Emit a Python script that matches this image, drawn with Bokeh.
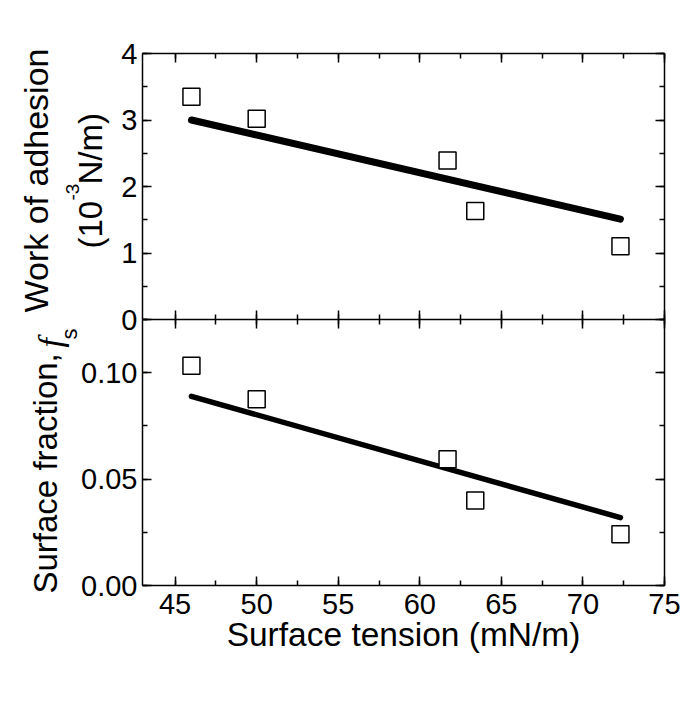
from bokeh.plotting import figure
from bokeh.models import (Range1d, LinearAxis, SingleIntervalTicker, Label,
                          PrintfTickFormatter, CustomJSTickFormatter)
from bokeh.embed import file_html
from bokeh.resources import INLINE

# ---- data ----
surface_tension = [46.0, 50.0, 61.7, 63.4, 72.3]
work_of_adhesion = [3.35, 3.02, 2.39, 1.63, 1.10]
surface_fraction = [0.1033, 0.0875, 0.0593, 0.0399, 0.0241]
fit_x = [46.0, 72.3]
fit_work = [3.00, 1.51]
fit_fraction = [0.0889, 0.0319]

# panel limits
X0, X1 = 43, 75
WORK0, WORK1 = 0, 4
FRAC0, FRAC1 = 0, 0.125

# ---- geometry (pixels) ----
FONT = "Liberation Sans"
W, H = 690, 680
PX_LEFT, PX_RIGHT = 142, 664          # panel left / right edge
PX_TOP, PX_MID, PX_BOT = 53, 319, 585  # upper top, shared middle, lower bottom

# the plotting frame fills the whole canvas; data ranges are extended so the
# panels land at the pixel positions above
sx = (X1 - X0) / (PX_RIGHT - PX_LEFT)
sw = (WORK1 - WORK0) / (PX_MID - PX_TOP)
sf = (FRAC1 - FRAC0) / (PX_BOT - PX_MID)
x_range = Range1d(X0 - PX_LEFT * sx, X1 + (W - PX_RIGHT) * sx)
frac_range = Range1d(FRAC0 - (H - PX_BOT) * sf, FRAC0 + PX_BOT * sf)
work_range = Range1d(WORK0 - (H - PX_MID) * sw, WORK0 + PX_MID * sw)

p = figure(width=W, height=H, x_range=x_range, y_range=frac_range,
           output_backend="svg", toolbar_location=None,
           x_axis_location=None, y_axis_location=None,
           min_border=0, min_border_left=0, min_border_right=0,
           min_border_top=0, min_border_bottom=0)
p.extra_y_ranges = {"work": work_range}
p.xgrid.grid_line_color = None
p.ygrid.grid_line_color = None
p.outline_line_color = None
p.background_fill_color = "white"
p.border_fill_color = "white"

blank = CustomJSTickFormatter(code="return ''")


def make_axis(interval, fmt=None, tick_out=0, **kw):
    ax = LinearAxis(**kw)
    ax.ticker = SingleIntervalTicker(interval=interval, num_minor_ticks=2)
    ax.major_tick_in = 9
    ax.major_tick_out = tick_out
    ax.minor_tick_in = 5
    ax.minor_tick_out = 5 if tick_out else 0
    ax.axis_line_width = 1.5
    ax.axis_line_color = "black"
    ax.major_tick_line_width = 1.5
    ax.minor_tick_line_width = 1.5
    ax.major_tick_line_color = "black"
    ax.minor_tick_line_color = "black"
    if fmt is not None:
        ax.formatter = fmt
        ax.major_label_text_font = FONT
        ax.major_label_text_font_size = "29px"
        ax.major_label_text_color = "black"
        ax.major_label_standoff = 5
    else:
        ax.formatter = blank
        ax.major_label_standoff = 0
    return ax


# left edge: surface fraction (lower) and work of adhesion (upper)
p.add_layout(make_axis(0.05, PrintfTickFormatter(format="%.2f"),
                       bounds=(FRAC0, FRAC1), fixed_location=X0), "left")
p.add_layout(make_axis(1, PrintfTickFormatter(format="%d"), y_range_name="work",
                       bounds=(WORK0, WORK1), fixed_location=X0), "left")
# right edge (ticks only)
p.add_layout(make_axis(0.05, bounds=(FRAC0, FRAC1), fixed_location=X1), "right")
p.add_layout(make_axis(1, y_range_name="work", bounds=(WORK0, WORK1),
                       fixed_location=X1), "right")
# top edge and shared middle line (ticks only)
p.add_layout(make_axis(5, y_range_name="work", bounds=(X0, X1),
                       fixed_location=WORK1), "above")
p.add_layout(make_axis(5, tick_out=9, y_range_name="work", bounds=(X0, X1),
                       fixed_location=WORK0), "below")
# bottom edge with tick labels
bx = make_axis(5, PrintfTickFormatter(format="%d"), bounds=(X0, X1), fixed_location=FRAC0)
bx.major_label_standoff = 8
p.add_layout(bx, "below")

# upper panel
p.line(fit_x, fit_work, y_range_name="work", line_width=7, line_color="black", line_cap="round")
p.scatter(surface_tension, work_of_adhesion, y_range_name="work", marker="square", size=17,
          fill_color="white", line_color="black", line_width=1.5)
# lower panel
p.line(fit_x, fit_fraction, line_width=5.5, line_color="black", line_cap="round")
p.scatter(surface_tension, surface_fraction, marker="square", size=17,
          fill_color="white", line_color="black", line_width=1.5)


# ---- axis titles ----
def lx(px):
    return x_range.start + px * sx


def ly(py):
    return frac_range.end - py * sf


def label(text, px, py, size, angle=90, align="left", font=FONT, style="normal"):
    p.add_layout(Label(x=lx(px), y=ly(py), text=text, angle=angle, angle_units="deg",
                       text_align=align, text_baseline="alphabetic",
                       text_font=font, text_font_style=style,
                       text_font_size=size, text_color="black"))


label("Surface tension (mN/m)", (PX_LEFT + PX_RIGHT) / 2, 634, "33.5px", angle=0, align="center")
label("Work of adhesion", 35, 180, "34px", align="center")
label("(10", 90, 248, "33px")
label("-3", 72, 200, "19px")
label("N/m)", 90, 184, "33px")
label("Surface fraction,", 45, 593, "33px")
label("f", 50, 347, "34px", font="Liberation Serif", style="italic")
label("s", 69, 339, "22px")

open("out.html", "w").write(file_html(p, INLINE))
